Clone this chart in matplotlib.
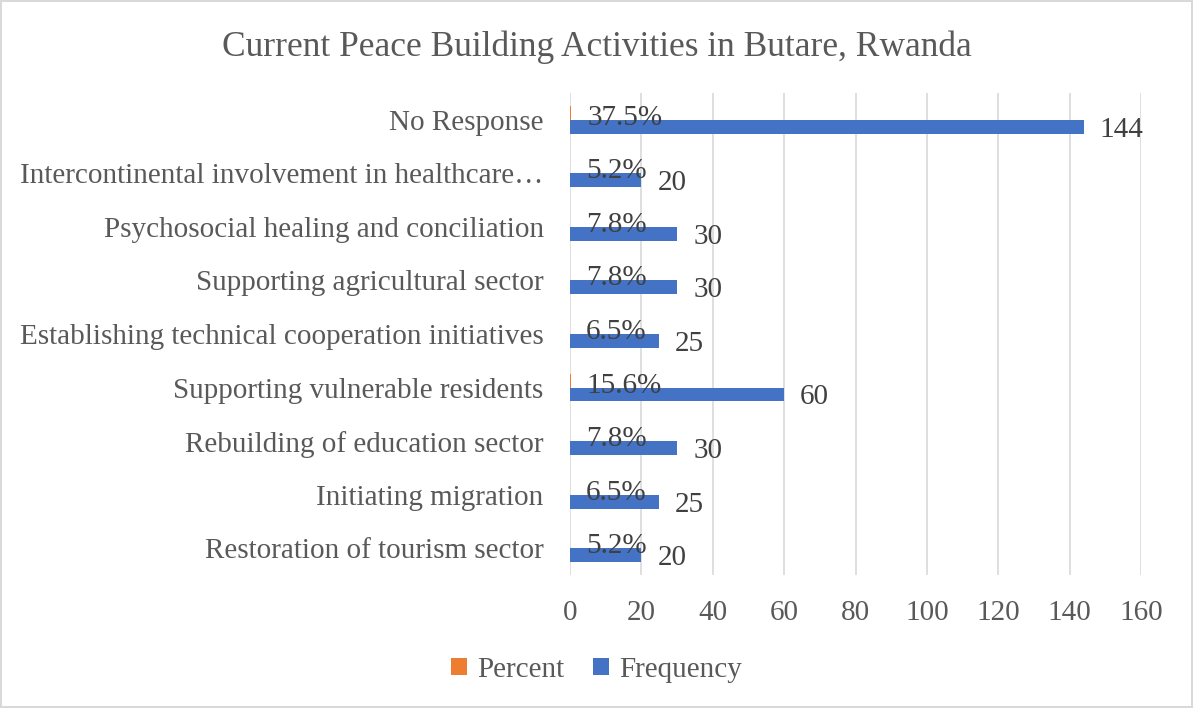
import matplotlib.pyplot as plt
import numpy as np

categories = [
    "No Response",
    "Intercontinental involvement in healthcare\u2026",
    "Psychosocial healing and conciliation",
    "Supporting agricultural sector",
    "Establishing technical cooperation initiatives",
    "Supporting vulnerable residents",
    "Rebuilding of education sector",
    "Initiating migration",
    "Restoration of tourism sector",
]
frequency = [144, 20, 30, 30, 25, 60, 30, 25, 20]
percent = [37.5, 5.2, 7.8, 7.8, 6.5, 15.6, 7.8, 6.5, 5.2]
x_ticks = [0, 20, 40, 60, 80, 100, 120, 140, 160]

TEXT = "#595959"
BLUE = "#4472C4"
ORANGE = "#ED7D31"
GRID = "#D9D9D9"
FS = 21

plt.rcParams["font.family"] = ["Liberation Serif", "DejaVu Serif"]

fig = plt.figure(figsize=(11.93, 7.08), dpi=100)
fig.patch.set_edgecolor(GRID)
fig.patch.set_linewidth(1.5)
ax = fig.add_axes([0.4778, 0.1879, 0.4786, 0.6808])

y = np.arange(len(categories))
h = 0.26
pct_bars = ax.barh(y - h / 2, np.array(percent) / 100.0, height=h, color=ORANGE, label="Percent", zorder=3)
freq_bars = ax.barh(y + h / 2, frequency, height=h, color=BLUE, label="Frequency", zorder=3)

for yy, p in zip(y, percent):
    ax.annotate(f"{p:.1f}%", (p / 100.0, yy - h / 2), xytext=(16, -5), textcoords="offset pixels",
                ha="left", va="center", fontsize=FS, color="#404040", zorder=4)
for yy, f in zip(y, frequency):
    ax.annotate(f"{f}", (f, yy + h / 2), xytext=(16, -3), textcoords="offset pixels",
                ha="left", va="center", fontsize=FS, color="#404040", zorder=4)

ax.set_xlim(0, 160)
ax.set_xticks(x_ticks)
ax.set_ylim(len(categories) - 0.5, -0.5)
ax.set_yticks(y)
ax.set_yticklabels(categories)
ax.xaxis.grid(True, color=GRID, linewidth=1.2, zorder=0)
ax.set_axisbelow(True)
for s in ax.spines.values():
    s.set_visible(False)
ax.tick_params(axis="both", length=0, labelsize=FS, colors=TEXT)
ax.tick_params(axis="x", pad=18)
ax.tick_params(axis="y", pad=19)

fig.text(0.5, 0.933, "Current Peace Building Activities in Butare, Rwanda", ha="center", va="center",
         fontsize=25.5, color=TEXT)

fig.legend(handles=[pct_bars, freq_bars], labels=["Percent", "Frequency"], loc="center",
           bbox_to_anchor=(0.5, 0.054), ncol=2, frameon=False, fontsize=FS, labelcolor=TEXT,
           handlelength=0.55, handleheight=0.55, handletextpad=0.35, columnspacing=1.0)

fig.savefig("out.png", dpi=100)
